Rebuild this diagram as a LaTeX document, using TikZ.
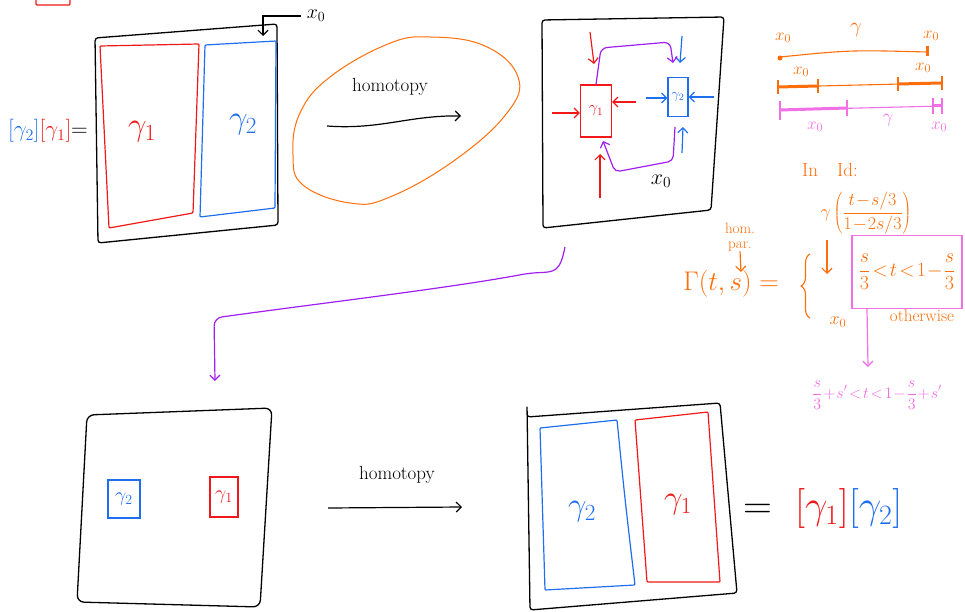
\documentclass[tikz,border=0pt]{standalone}
\usepackage{fix-cm}
\usepackage{xcolor}
\usetikzlibrary{arrows.meta,decorations.pathreplacing}
\definecolor{pred}{HTML}{F01818}
\definecolor{pblue}{HTML}{1E6EF0}
\definecolor{porg}{HTML}{FF6E0A}
\definecolor{ppur}{HTML}{A01EF0}
\definecolor{ppink}{HTML}{F270E6}
\tikzset{
  sz/.style={font=\fontsize{#1}{#1}\selectfont},
  lbl/.style={inner sep=0pt},
  tight/.style={execute at begin node={\thickmuskip=2mu\medmuskip=1mu}},
  sq/.style={draw=black, line width=1.3pt, rounded corners=3pt},
  cell/.style={line width=1.2pt, rounded corners=1pt},
  box/.style={draw, line width=1.2pt, inner sep=0pt, align=center},
  hand/.style={line width=1.2pt, -{Straight Barb[length=5pt,width=10pt]}},
  seg/.style={line width=1.1pt},
  thk/.style={line width=3pt}}

\begin{document}
\begin{tikzpicture}[x=1pt, y=-1pt]
\useasboundingbox (0,0) rectangle (965,612);
% top left: [gamma_2][gamma_1]
\draw[cell, draw=pred] (36,0) -- (36,5) -- (70,5) -- (70,0);
\draw[sq] (95,38) -- (277,24) -- (278,225) -- (98,243) -- cycle;
\draw[cell, draw=pred] (100,46) -- (199,44) -- (193,213) -- (109,228) -- cycle;
\draw[cell, draw=pblue] (205,45) -- (276,41) -- (275,208) -- (200,217) -- cycle;
\node[lbl, sz=33, text=pred] (a1) at (142,132) {$\gamma_1$};
\node[lbl, sz=33, text=pblue] (a2) at (243,125) {$\gamma_2$};
\node[lbl, sz=23, anchor=east] (eqa) at (88,131) {\textcolor{pblue}{$[\gamma_2]$}\textcolor{pred}{$[\gamma_1]$}$=$};
\node[lbl, sz=20] (xa) at (316,16) {$x_0$};
\coordinate (xb) at (263,36);
\draw[hand, shorten <=6pt] (xa.west) -| (xb);

% first homotopy
\draw[porg, line width=1pt] plot[smooth cycle, tension=0.7] coordinates {(388,44) (430,37) (485,46) (518,77) (507,113) (455,160) (390,197) (350,203) (303,185) (293,155) (300,113) (330,77)};
\node[lbl, sz=19] (h1) at (390,87) {homotopy};
\coordinate (h1s) at (327,126);
\coordinate (h1e) at (461,116);
\draw[hand] (h1s) .. controls (380,130) and (410,115) .. (h1e);

% top right square
\draw[sq] (542,20) -- (724,17) -- (711,210) -- (543,228) -- cycle;
\node[box, draw=pred, text=pred, sz=16, minimum width=31pt, minimum height=52pt] (b1) at (596,111) {$\gamma_1$};
\node[box, draw=pblue, text=pblue, sz=14, minimum width=20pt, minimum height=39pt] (b2) at (678,97) {$\gamma_2$};
\coordinate (rl) at (552,113);
\coordinate (rr) at (636,102);
\coordinate (rt1) at (590,32);
\coordinate (rt2) at (594,64);
\coordinate (rb1) at (600,198);
\coordinate (rb2) at (600,154);
\draw[hand, pred] (rl) -- (rl -| b1.west);
\draw[hand, pred] (rr) -- (rr -| b1.east);
\draw[hand, pred] (rt1) -- (rt2);
\draw[hand, pred] (rb1) -- (rb2);
\coordinate (bl) at (646,98);
\coordinate (br) at (714,97);
\coordinate (bt1) at (682,36);
\coordinate (bt2) at (680,63);
\coordinate (bb1) at (682,153);
\coordinate (bb2) at (683,127);
\draw[hand, pblue] (bl) -- (bl -| b2.west);
\draw[hand, pblue] (br) -- (br -| b2.east);
\draw[hand, pblue] (bt1) -- (bt2);
\draw[hand, pblue] (bb1) -- (bb2);
\draw[hand, ppur, rounded corners=6pt] (b1.north) -- (601,48) -- (670,42) -- (673,63);
\draw[hand, ppur, rounded corners=5pt] (675,127) -- (673,161) -- (615,172) -- (603,141);
\node[lbl, sz=22] (xc) at (661,181) {$x_0$};

% long purple arrow
\coordinate (p1) at (565,247);
\coordinate (p2) at (215,381);
\draw[hand, ppur, rounded corners=8pt] (p1) .. controls (560,272) and (555,272) .. (530,273) .. controls (450,288) and (330,302) .. (214,318) -- (p2);

% path pictures
\draw[porg, seg] (780,57) .. controls (850,50) .. (927,52);
\fill[porg] (780,58) circle (2.5pt);
\draw[porg, thk] (927,46) -- (927,56);
\node[lbl, sz=17, text=porg] (o1) at (783,38) {$x_0$};
\node[lbl, sz=21, text=porg] (o2) at (856,30) {$\gamma$};
\node[lbl, sz=17, text=porg] (o3) at (931,36) {$x_0$};
\draw[porg, seg] (778,87) -- (942,83);
\draw[porg, thk] (778,87) -- (818,86);
\draw[porg, thk] (898,84) -- (942,83);
\draw[porg, seg] (778,80) -- (778,94);
\draw[porg, seg] (818,79) -- (818,93);
\draw[porg, seg] (898,77) -- (898,91);
\draw[porg, seg] (942,76) -- (942,90);
\node[lbl, sz=17, text=porg] (o4) at (801,72) {$x_0$};
\node[lbl, sz=17, text=porg] (o5) at (923,68) {$x_0$};
\draw[ppink, seg] (780,110) -- (942,106);
\draw[ppink, thk] (780,110) -- (847,108);
\draw[ppink, thk] (933,106) -- (942,106);
\draw[ppink, seg] (780,101) -- (780,120);
\draw[ppink, seg] (847,100) -- (847,116);
\draw[ppink, seg] (933,98) -- (933,114);
\draw[ppink, seg] (942,98) -- (942,114);
\node[lbl, sz=17, text=ppink] (k1) at (815,127) {$x_0$};
\node[lbl, sz=19, text=ppink] (k2) at (888,120) {$\gamma$};
\node[lbl, sz=17, text=ppink] (k3) at (939,127) {$x_0$};

% homotopy parameter
\node[lbl, sz=19, text=porg] (inid) at (830,170) {In\quad Id:};
\node[lbl, sz=18, tight, text=porg] (gfr) at (866,213) {$\displaystyle\gamma\left(\frac{t-s/3}{1-2s/3}\right)$};
\node[lbl, sz=15, text=porg, align=center] (hp) at (740,237) {hom.\\par.};
\node[lbl, sz=27, text=porg] (gam) at (731,284) {$\Gamma(t,s)=$};
\draw[hand, porg] (hp.south) -- (741,272);
\draw[porg, seg, decorate, decoration={brace, amplitude=9pt}] (810,318) -- (810,254);
\coordinate (d1) at (827,240);
\coordinate (d2) at (827,274);
\draw[hand, porg] (d1) -- (d2);
\node[box, draw=ppink, text=porg, sz=20, tight, minimum width=110pt, minimum height=73pt] (cond) at (907,272) {$\displaystyle\frac{s}{3}<t<1-\frac{s}{3}$};
\node[lbl, sz=18, text=porg] (xo) at (838,322) {$x_0$};
\node[lbl, sz=17, text=porg] (oth) at (922,316) {otherwise};
\coordinate (pk) at (868,367);
\draw[hand, ppink] ([xshift=-40pt]cond.south) -- (pk);
\node[lbl, sz=16, tight, text=ppink, anchor=west] (cond2) at (812,395) {$\displaystyle\frac{s}{3}+s'<t<1-\frac{s}{3}+s'$};

% bottom left square
\draw[sq, rounded corners=7pt] (87,415) -- (272,408) -- (260,607) -- (77,602) -- cycle;
\node[box, draw=pblue, text=pblue, sz=20, minimum width=32pt, minimum height=38pt] (c2) at (124,499) {$\gamma_2$};
\node[box, draw=pred, text=pred, sz=20, minimum width=28pt, minimum height=40pt] (c1) at (224,497) {$\gamma_1$};

% second homotopy
\node[lbl, sz=19] (h2) at (397,475) {homotopy};
\coordinate (h2s) at (328,508);
\coordinate (h2e) at (462,507);
\draw[hand] (h2s) -- (h2e);

% bottom right square
\draw[sq] (527,405) -- (527,417) -- (720,403) -- (737,593) -- (530,610) -- cycle;
\draw[cell, draw=pblue] (540,428) -- (617,420) .. controls (625,500) .. (635,585) -- (545,590) -- cycle;
\draw[cell, draw=pred] (635,420) -- (708,412) -- (720,582) -- (647,582) -- cycle;
\node[lbl, sz=33, text=pblue] (d2l) at (582,512) {$\gamma_2$};
\node[lbl, sz=33, text=pred] (d1l) at (678,505) {$\gamma_1$};
\node[lbl, sz=40, anchor=west] (eqb) at (743,508) {$=\ \textcolor{pred}{[\gamma_1]}\textcolor{pblue}{[\gamma_2]}$};
\end{tikzpicture}
\end{document}
